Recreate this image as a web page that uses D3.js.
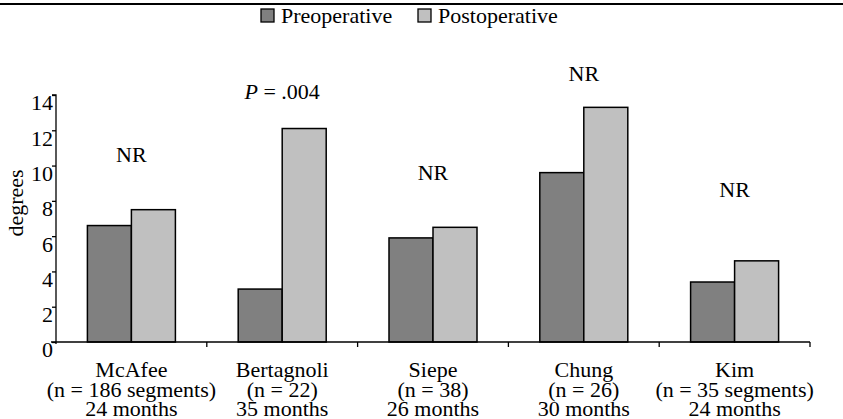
<!DOCTYPE html>
<html>
<head>
<meta charset="utf-8">
<script src="https://cdn.jsdelivr.net/npm/d3@7"></script>
<style>
  body { margin: 0; background: #fff; }
</style>
</head>
<body>
<svg width="843" height="419"></svg>
<script>
// data
const studies = ["McAfee", "Bertagnoli", "Siepe", "Chung", "Kim"];
const sampleLabels = ["(n = 186 segments)", "(n = 22)", "(n = 38)", "(n = 26)", "(n = 35 segments)"];
const followUp = ["24 months", "35 months", "26 months", "30 months", "24 months"];
const preop = [6.6, 3.0, 5.9, 9.6, 3.4];
const postop = [7.5, 12.1, 6.5, 13.3, 4.6];
const notes = ["NR", "P = .004", "NR", "NR", "NR"];
const noteLevel = [10.2, 13.8, 9.2, 14.8, 8.2];
const yTicks = [0, 2, 4, 6, 8, 10, 12, 14];

const FONT = "'Liberation Serif', 'Times New Roman', Times, serif";

const svg = d3.select("svg"),
    width = +svg.attr("width"),
    height = +svg.attr("height");

const margin = { top: 95, right: 33, bottom: 77, left: 56 };

const x = d3.scaleBand()
    .domain(studies)
    .range([margin.left, width - margin.right])
    .paddingInner(0).paddingOuter(0);

const barW = 44;

const y = d3.scaleLinear()
    .domain([0, 14])
    .range([height - margin.bottom, margin.top]);

// rule across the top (bottom of a cut-off heading)
svg.append("line")
    .attr("x1", 0).attr("x2", width)
    .attr("y1", 4).attr("y2", 4)
    .attr("stroke", "#000").attr("stroke-width", 2.2);

// bars
const series = [
    { name: "Preoperative", values: preop, color: "#808080", offset: -barW },
    { name: "Postoperative", values: postop, color: "#c0c0c0", offset: 0 }
];

series.forEach(s => {
    svg.append("g").selectAll("rect")
        .data(studies)
        .enter()
        .append("rect")
        .attr("x", (d) => x(d) + x.bandwidth() / 2 + s.offset)
        .attr("y", (d, i) => y(s.values[i]))
        .attr("width", barW)
        .attr("height", (d, i) => y(0) - y(s.values[i]))
        .attr("fill", s.color)
        .attr("stroke", "#000")
        .attr("stroke-width", 1.5);
});

// y axis
const yAxis = svg.append("g")
    .attr("transform", `translate(${margin.left},0)`)
    .call(d3.axisLeft(y).tickValues(yTicks).tickSize(4).tickPadding(-1));
yAxis.select(".domain").attr("stroke-width", 1.3).attr("d", `M-4,${y(14)}H0V${y(0) + 2}`);
yAxis.selectAll(".tick line").attr("stroke-width", 1.3);
yAxis.selectAll(".tick text")
    .attr("dy", "0.68em")
    .attr("fill", "#000")
    .style("font-size", "22px")
    .style("font-family", FONT);

// x axis
const xAxis = svg.append("g")
    .attr("transform", `translate(0,${y(0)})`);
xAxis.append("line")
    .attr("x1", margin.left - 5).attr("x2", width - margin.right)
    .attr("stroke", "#000").attr("stroke-width", 1.3);
xAxis.selectAll(".xtick")
    .data(studies)
    .enter()
    .append("line")
    .attr("x1", d => x(d) + x.bandwidth()).attr("x2", d => x(d) + x.bandwidth())
    .attr("y1", 0).attr("y2", 5)
    .attr("stroke", "#000").attr("stroke-width", 1.3);

// category labels
const catLabels = svg.append("g")
    .selectAll("text")
    .data(studies)
    .enter()
    .append("text")
    .attr("text-anchor", "middle")
    .attr("x", d => x(d) + x.bandwidth() / 2)
    .attr("y", y(0) + 35)
    .style("font-size", "22px")
    .style("font-family", FONT);
catLabels.each(function(d, i) {
    const t = d3.select(this);
    const cx = x(d) + x.bandwidth() / 2;
    [d, sampleLabels[i], followUp[i]].forEach((line, k) => {
        t.append("tspan")
            .attr("x", cx)
            .attr("dy", k === 0 ? 0 : 19.5)
            .text(line);
    });
});

// notes above bars
svg.append("g")
    .selectAll("text")
    .data(studies)
    .enter()
    .append("text")
    .attr("text-anchor", "middle")
    .attr("x", d => x(d) + x.bandwidth() / 2)
    .attr("y", (d, i) => y(noteLevel[i]))
    .style("font-size", "22px")
    .style("font-family", FONT)
    .each(function(d, i) {
        const t = d3.select(this);
        if (notes[i].startsWith("P")) {
            t.append("tspan").style("font-style", "italic").text("P");
            t.append("tspan").text(notes[i].slice(1));
        } else {
            t.text(notes[i]);
        }
    });

// y label
svg.append("text")
    .attr("transform", `translate(23,203) rotate(-90)`)
    .attr("text-anchor", "middle")
    .style("font-size", "22px")
    .style("font-family", FONT)
    .text("degrees");

// legend
const legend = svg.append("g").attr("transform", "translate(261,9)");
series.forEach((s, i) => {
    const g = legend.append("g").attr("transform", `translate(${i * 157},0)`);
    g.append("rect")
        .attr("width", 13).attr("height", 13)
        .attr("fill", s.color)
        .attr("stroke", "#000").attr("stroke-width", 1.3);
    g.append("text")
        .attr("x", 20).attr("y", 14)
        .style("font-size", "22px")
        .style("font-family", FONT)
        .text(s.name);
});
</script>
</body>
</html>
